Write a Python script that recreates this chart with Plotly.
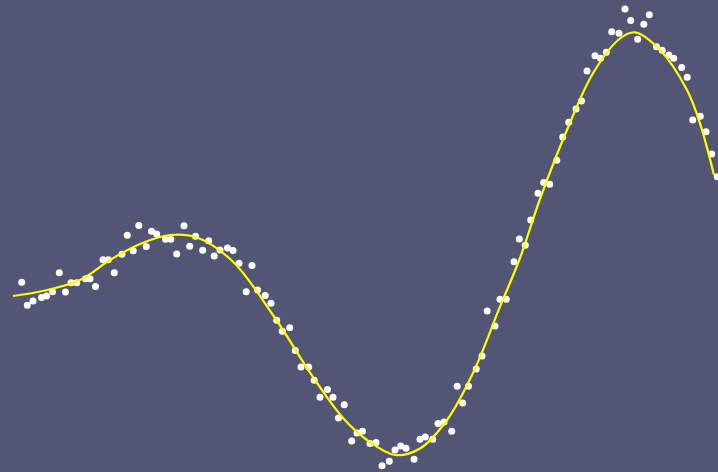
import plotly.graph_objects as go

# Noisy observations
obs_x = [21.7, 27.3, 33, 41.5, 46.5, 52.5, 59.3, 65.5, 71, 76.7, 85.5, 90, 95.5, 103, 108.3,
         114.3, 122, 127.3, 133.2, 138.8, 146.3, 151.5, 156.7, 165.5, 170.8, 176.7, 184, 189.7,
         195.5, 202.7, 208.7, 214.2, 220, 227.5, 233, 239, 246.2, 252, 257.5, 265.2, 271, 276.7,
         282.3, 289.7, 295.3, 301, 308.7, 314.2, 320, 327.5, 333, 338.5, 344.2, 351.7, 357, 362.5,
         370, 376, 382, 389.3, 395, 400.7, 406, 414, 420, 425.3, 432.7, 438, 444, 451.7, 457.2,
         462.7, 468.5, 476.2, 482, 487.2, 495, 500, 506.3, 514, 519.3, 525.3, 530.7, 538, 543.7,
         549.7, 556.8, 562.7, 568.7, 576, 581.5, 587, 595, 600.5, 606.3, 611.7, 619, 625, 630.7,
         637.7, 643.8, 649.3, 656.5, 662.2, 668.8, 673.7, 681.7, 687.2, 692.7, 700.3, 706, 711.7,
         717.3]
obs_y = [189.7, 166.7, 171, 174.5, 176, 180.2, 199.3, 180, 189.3, 189.3, 193.3, 193.3, 185.5,
         212.3, 212.3, 199.3, 217.8, 236.8, 221.3, 246.5, 225.5, 240.8, 238, 232.7, 232.7, 218,
         246.3, 225.7, 235.8, 221.7, 231.2, 216, 222, 224, 221.5, 208.7, 180.2, 206.5, 182, 176.5,
         168.8, 151.7, 140.7, 144.3, 121.5, 105, 105, 91.7, 74.8, 82.5, 74.8, 54, 67.3, 31, 39,
         40.7, 28.5, 29.5, 6.2, 10.7, 22, 26, 23.7, 12.7, 32.7, 35, 32.7, 48.5, 50, 40.7, 85.7,
         69, 85.7, 103, 116, 161, 146, 172.7, 172.7, 210.3, 233, 226.8, 252, 278.7, 289.5, 287.7,
         311.7, 335, 349.8, 363, 371, 401, 416.2, 413.7, 419.7, 440.3, 438.8, 463, 451.5, 432.7,
         447.7, 457.3, 425.3, 421.7, 417, 413.7, 404.5, 394.7, 352, 355.7, 340.2, 318, 295.3]

# Smooth fitted curve
fit_x = [13, 45, 80, 110, 140, 170, 197, 233, 273, 313, 343, 367, 395, 420, 447, 473, 500,
         520, 540, 567, 593, 620, 635, 660, 687, 700, 714]
fit_y = [176, 181.5, 192, 212, 228, 237, 234.5, 210.3, 157, 95, 54, 32, 17, 23.5, 52, 99,
         165.3, 214, 273, 342, 398.7, 433.5, 439.7, 422, 382, 348.7, 297]

BG = "rgb(82,85,115)"

fig = go.Figure()
fig.add_trace(go.Scatter(
    x=obs_x, y=obs_y, mode="markers",
    marker=dict(color="white", size=7, line=dict(width=0)),
))
fig.add_trace(go.Scatter(
    x=fit_x, y=fit_y, mode="lines",
    line=dict(color="#ffff00", width=2.2, shape="spline", smoothing=1.0),
))

fig.update_layout(
    width=718, height=472,
    margin=dict(l=0, r=0, t=0, b=0),
    paper_bgcolor=BG, plot_bgcolor=BG,
    showlegend=False,
    xaxis=dict(range=[0, 718], visible=False),
    yaxis=dict(range=[0, 472], visible=False),
)

fig.write_html("out.html")
